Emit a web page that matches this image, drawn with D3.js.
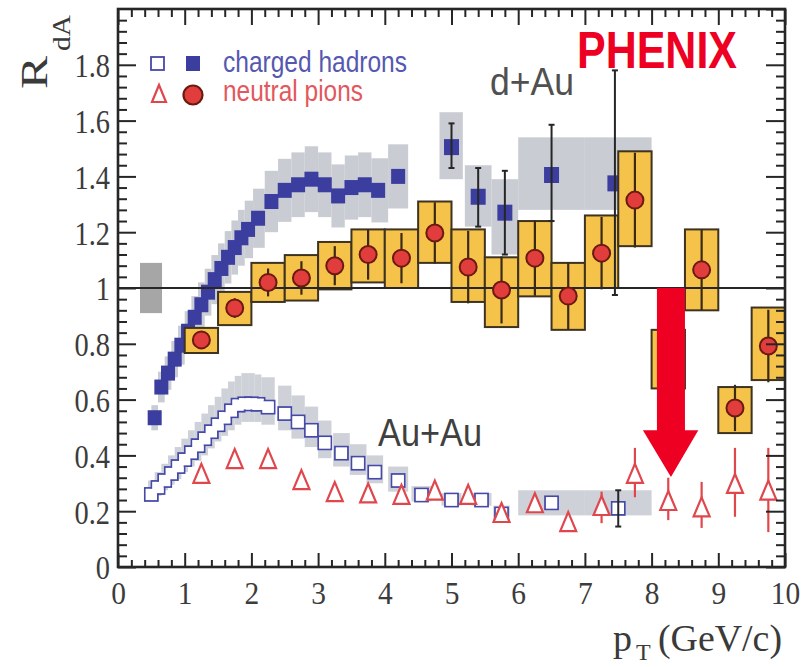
<!DOCTYPE html>
<html><head><meta charset="utf-8">
<script src="https://cdn.jsdelivr.net/npm/d3@7"></script>
<style>body{margin:0;background:#fff}svg{display:block}</style>
</head><body>
<svg id="c" width="812" height="667"></svg>
<script>
// ---------------- data ----------------
const xTickVals = [0,1,2,3,4,5,6,7,8,9,10];
const xTickLabels = ["0","1","2","3","4","5","6","7","8","9","10"];
const yTickVals = [0,0.2,0.4,0.6,0.8,1.0,1.2,1.4,1.6,1.8];
const yTickLabels = ["0","0.2","0.4","0.6","0.8","1","1.2","1.4","1.6","1.8"];

// normalization uncertainty box
const normBoxPt = [0.33, 0.66];
const normBoxR = [0.91, 1.09];

// d+Au charged hadrons (filled squares, low pT)
const dauChPt = [0.55,0.65,0.75,0.85,0.95,1.05,1.15,1.25,1.35,1.45,1.55,1.65,1.75,1.85,1.95,2.1,2.3,2.5,2.7,2.9,3.1,3.3,3.5,3.7,3.9,4.2];
const dauChR  = [0.535,0.645,0.695,0.745,0.795,0.845,0.895,0.94,0.985,1.03,1.07,1.11,1.145,1.18,1.21,1.25,1.31,1.35,1.37,1.39,1.37,1.33,1.36,1.37,1.35,1.40];
const dauChSys = [0.045,0.055,0.06,0.065,0.07,0.072,0.076,0.08,0.084,0.088,0.09,0.094,0.097,0.1,0.103,0.106,0.11,0.113,0.116,0.118,0.116,0.113,0.115,0.116,0.115,0.115];

// d+Au charged hadrons (filled squares, high pT, with errors)
const dauChHiPt = [5.0, 5.4, 5.8, 6.5, 7.45];
const dauChHiR  = [1.505, 1.327, 1.27, 1.405, 1.375];
const dauChHiErrLo = [0.075, 0.107, 0.15, 0.165, 0.40];
const dauChHiErrHi = [0.085, 0.103, 0.15, 0.18, 0.405];
const dauChHiBinLo = [4.82, 5.2, 5.6, 6.0, 7.0];
const dauChHiBinHi = [5.17, 5.6, 6.0, 7.0, 8.0];
const dauChHiSysLo = [1.39, 1.22, 1.12, 1.28, 1.28];
const dauChHiSysHi = [1.63, 1.44, 1.39, 1.54, 1.54];

// d+Au neutral pions (filled circles, yellow sys boxes)
const dauPiPt = [1.25,1.75,2.25,2.75,3.25,3.75,4.25,4.75,5.25,5.75,6.25,6.75,7.25,7.75,8.25,8.75,9.25,9.75];
const dauPiR  = [0.814,0.928,1.02,1.036,1.08,1.12,1.107,1.197,1.075,0.993,1.107,0.971,1.125,1.315,0.745,1.065,0.57,0.792];
const dauPiErr = [0.03,0.035,0.05,0.06,0.07,0.09,0.09,0.11,0.13,0.12,0.135,0.12,0.13,0.17,0.105,0.145,0.083,0.13];
const dauPiSysLo = [0.767,0.867,0.95,0.955,0.995,1.02,1.0,1.09,0.95,0.86,0.97,0.85,1.0,1.15,0.64,0.92,0.48,0.67];
const dauPiSysHi = [0.857,0.986,1.09,1.118,1.165,1.21,1.21,1.31,1.21,1.11,1.24,1.09,1.26,1.49,0.85,1.21,0.645,0.93];

// Au+Au charged hadrons (open squares)
const auauChPt = [0.5,0.6,0.7,0.8,0.9,1.0,1.1,1.2,1.3,1.4,1.5,1.6,1.7,1.8,1.9,2.0,2.1,2.25,2.5,2.7,2.9,3.1,3.35,3.6,3.85,4.2,4.55,5.0,5.45,5.75,6.5,7.5];
const auauChR  = [0.26,0.285,0.31,0.335,0.36,0.385,0.41,0.435,0.46,0.485,0.51,0.535,0.56,0.58,0.585,0.585,0.583,0.573,0.55,0.52,0.49,0.445,0.408,0.372,0.34,0.31,0.258,0.24,0.24,0.19,0.23,0.21];
const auauChErr = [0,0,0,0,0,0,0,0,0,0,0,0,0,0,0,0,0,0,0,0,0,0,0,0,0,0,0,0,0,0,0,0.065];
const auauChW   = [0.1,0.1,0.1,0.1,0.1,0.1,0.1,0.1,0.1,0.1,0.1,0.1,0.1,0.1,0.1,0.1,0.1,0.2,0.2,0.2,0.2,0.2,0.25,0.25,0.25,0.3,0.3,0.3,0.3,0.25,1.0,1.0];
const auauChSysLo = [0.235,0.255,0.275,0.295,0.315,0.34,0.36,0.38,0.40,0.425,0.45,0.47,0.49,0.51,0.52,0.52,0.52,0.51,0.49,0.46,0.43,0.39,0.36,0.33,0.30,0.27,0.235,0.22,0.22,0.165,0.185,0.185];
const auauChSysHi = [0.31,0.34,0.37,0.40,0.43,0.46,0.49,0.52,0.55,0.58,0.61,0.64,0.665,0.685,0.695,0.695,0.69,0.68,0.65,0.615,0.575,0.525,0.48,0.44,0.40,0.36,0.29,0.265,0.265,0.22,0.275,0.275];

// Au+Au neutral pions (open triangles)
const auauPiPt = [1.25,1.75,2.25,2.75,3.25,3.75,4.25,4.75,5.25,5.75,6.25,6.75,7.25,7.75,8.25,8.75,9.25,9.75];
const auauPiR  = [0.33,0.383,0.383,0.308,0.265,0.26,0.255,0.27,0.255,0.19,0.225,0.157,0.215,0.33,0.233,0.21,0.294,0.27];
const auauPiErrLo = [0.015,0.015,0.015,0.015,0.015,0.015,0.015,0.02,0.02,0.02,0.03,0.02,0.058,0.08,0.065,0.07,0.114,0.145];
const auauPiErrHi = [0.015,0.015,0.015,0.015,0.015,0.015,0.015,0.02,0.02,0.02,0.03,0.02,0.055,0.097,0.087,0.095,0.133,0.157];

// annotation arrow (data units)
const arrowPt = [8.08, 8.5, 7.87, 8.7, 8.29];   // shaft left, shaft right, head left, head right, tip
const arrowR  = [1.0, 0.49, 0.323];             // shaft top, head base, tip

// ---------------- drawing ----------------
const svg = d3.select("#c");
const x = d3.scaleLinear().domain([0,10]).range([118,785]);
const y = d3.scaleLinear().domain([0,2]).range([567,9]);

const C = {
  gray:"#c9ccd3", norm:"#a6a6a6", blue:"#3b3d9f", blueOpen:"#4649a8",
  yellow:"#f5c24a", yellowStroke:"#3d3320", red:"#e23d3d", redStroke:"#6b1a10",
  tri:"#e0474c", ink:"#262626"
};

function neighborBounds(pts, i){
  const n = pts.length;
  const lo = i>0 ? (pts[i-1]+pts[i])/2 : pts[i]-(pts[1]-pts[0])/2;
  const hi = i<n-1 ? (pts[i]+pts[i+1])/2 : pts[i]+(pts[i]-pts[i-1])/2;
  return [lo,hi];
}

const g = svg.append("g");

// normalization box
g.append("rect")
  .attr("x", x(normBoxPt[0])).attr("width", x(normBoxPt[1])-x(normBoxPt[0]))
  .attr("y", y(normBoxR[1])).attr("height", y(normBoxR[0])-y(normBoxR[1]))
  .attr("fill", C.norm);

// d+Au charged sys band
g.append("g").selectAll("rect").data(dauChPt).join("rect")
  .each(function(d,i){
    const [lo,hi] = neighborBounds(dauChPt,i);
    d3.select(this).attr("x", x(lo)).attr("width", x(hi)-x(lo))
      .attr("y", y(dauChR[i]+dauChSys[i])).attr("height", y(dauChR[i]-dauChSys[i])-y(dauChR[i]+dauChSys[i]));
  }).attr("fill", C.gray);
g.append("g").selectAll("rect").data(dauChHiPt).join("rect")
  .attr("x",(d,i)=>x(dauChHiBinLo[i])).attr("width",(d,i)=>x(dauChHiBinHi[i])-x(dauChHiBinLo[i]))
  .attr("y",(d,i)=>y(dauChHiSysHi[i])).attr("height",(d,i)=>y(dauChHiSysLo[i])-y(dauChHiSysHi[i]))
  .attr("fill", C.gray);

// Au+Au charged sys band
g.append("g").selectAll("rect").data(auauChPt).join("rect")
  .attr("x",(d,i)=>x(d-auauChW[i]/2)).attr("width",(d,i)=>x(d+auauChW[i]/2)-x(d-auauChW[i]/2))
  .attr("y",(d,i)=>y(auauChSysHi[i])).attr("height",(d,i)=>y(auauChSysLo[i])-y(auauChSysHi[i]))
  .attr("fill", C.gray).attr("opacity",0.9);

// d+Au charged filled squares
const sqW = 14, sqH = 15;
g.append("g").selectAll("rect").data(dauChPt).join("rect")
  .attr("x", d=>x(d)-sqW/2).attr("y",(d,i)=>y(dauChR[i])-sqH/2)
  .attr("width", sqW).attr("height", sqH).attr("fill", C.blue);

// high pT charged: error bars + squares
const eb = g.append("g").attr("stroke", C.ink).attr("stroke-width", 2);
dauChHiPt.forEach((p,i)=>{
  const cx = x(p), y1 = y(dauChHiR[i]+dauChHiErrHi[i]), y0 = y(dauChHiR[i]-dauChHiErrLo[i]);
  eb.append("line").attr("x1",cx).attr("x2",cx).attr("y1",y1).attr("y2",y0);
  eb.append("line").attr("x1",cx-3).attr("x2",cx+3).attr("y1",y1).attr("y2",y1);
  eb.append("line").attr("x1",cx-3).attr("x2",cx+3).attr("y1",y0).attr("y2",y0);
});
g.append("g").selectAll("rect").data(dauChHiPt).join("rect")
  .attr("x", d=>x(d)-7.5).attr("y",(d,i)=>y(dauChHiR[i])-8)
  .attr("width", 15).attr("height", 16).attr("fill", C.blue);

// yellow sys boxes for d+Au pions
g.append("g").selectAll("rect").data(dauPiPt).join("rect")
  .attr("x", d=>x(d-0.25)).attr("width", d=>x(d+0.25)-x(d-0.25))
  .attr("y",(d,i)=>y(dauPiSysHi[i])).attr("height",(d,i)=>y(dauPiSysLo[i])-y(dauPiSysHi[i]))
  .attr("fill", C.yellow).attr("stroke", C.yellowStroke).attr("stroke-width", 2);

// unity line
g.append("line").attr("x1", x(0)).attr("x2", x(10)).attr("y1", y(1)).attr("y2", y(1))
  .attr("stroke", C.ink).attr("stroke-width", 2);

// pion stat errors + circles
g.append("g").selectAll("line").data(dauPiPt).join("line")
  .attr("x1", d=>x(d)).attr("x2", d=>x(d))
  .attr("y1",(d,i)=>y(dauPiR[i]+dauPiErr[i])).attr("y2",(d,i)=>y(dauPiR[i]-dauPiErr[i]))
  .attr("stroke", "#3a2a15").attr("stroke-width", 2.2);
g.append("g").selectAll("circle").data(dauPiPt).join("circle")
  .attr("cx", d=>x(d)).attr("cy",(d,i)=>y(dauPiR[i])).attr("r", 8.5)
  .attr("fill", C.red).attr("stroke", C.redStroke).attr("stroke-width", 2);

// Au+Au open squares: outline of the union (stroke pass, then white fill pass)
auauChPt.forEach((p,i)=>{
  if(auauChErr[i]>0){
    const cx=x(p), y1=y(auauChR[i]+auauChErr[i]), y0=y(auauChR[i]-auauChErr[i]);
    eb.append("line").attr("x1",cx).attr("x2",cx).attr("y1",y1).attr("y2",y0);
    eb.append("line").attr("x1",cx-3).attr("x2",cx+3).attr("y1",y1).attr("y2",y1);
    eb.append("line").attr("x1",cx-3).attr("x2",cx+3).attr("y1",y0).attr("y2",y0);
  }
});
const osq = 13, osw = 1.8;
g.append("g").selectAll("rect").data(auauChPt).join("rect")
  .attr("x", d=>x(d)-osq/2).attr("y",(d,i)=>y(auauChR[i])-osq/2)
  .attr("width", osq).attr("height", osq)
  .attr("fill", "#fff").attr("stroke", C.blueOpen).attr("stroke-width", osw);
g.append("g").selectAll("rect").data(auauChPt).join("rect")
  .attr("x", d=>x(d)-osq/2+osw/2).attr("y",(d,i)=>y(auauChR[i])-osq/2+osw/2)
  .attr("width", osq-osw).attr("height", osq-osw)
  .attr("fill", "#fff");
eb.raise();

// Au+Au triangles
g.append("g").selectAll("line").data(auauPiPt).join("line")
  .attr("x1", d=>x(d)).attr("x2", d=>x(d))
  .attr("y1",(d,i)=>y(auauPiR[i]+auauPiErrHi[i])).attr("y2",(d,i)=>y(auauPiR[i]-auauPiErrLo[i]))
  .attr("stroke", C.tri).attr("stroke-width", 2.2);
const triPath = "M0,-11L8,8L-8,8Z";
g.append("g").selectAll("path").data(auauPiPt).join("path")
  .attr("d", triPath)
  .attr("transform",(d,i)=>`translate(${x(d)},${y(auauPiR[i])})`)
  .attr("fill", "#fff").attr("stroke", C.tri).attr("stroke-width", 2.2);

// ---------------- axes / frame ----------------
const minorX = d3.range(0, 10.0001, 0.2).filter(v=>Math.abs(v-Math.round(v))>1e-6);
const minorY = d3.range(0, 2.0001, 0.04).filter(v=>Math.abs(v*5-Math.round(v*5))>1e-6);
const majorY = d3.range(0, 2.0001, 0.2);

function styleAxis(sel){
  sel.select(".domain").remove();
  sel.selectAll(".tick line").attr("stroke", C.ink).attr("stroke-width", 2);
}
const axG = svg.append("g");
const bottomLab = axG.append("g").attr("transform","translate(0,567)");
const leftLab = axG.append("g").attr("transform","translate(118,0)");
// bottom
axG.append("g").attr("transform","translate(0,567)")
  .call(d3.axisBottom(x).tickValues(minorX).tickSize(-7).tickFormat("")).call(styleAxis);
bottomLab.call(d3.axisBottom(x).tickValues(xTickVals).tickSize(-14).tickPadding(14)
    .tickFormat((d,i)=>xTickLabels[i])).call(styleAxis);
// top
axG.append("g").attr("transform","translate(0,9)")
  .call(d3.axisTop(x).tickValues(minorX).tickSize(-8).tickFormat("")).call(styleAxis);
axG.append("g").attr("transform","translate(0,9)")
  .call(d3.axisTop(x).tickValues(xTickVals).tickSize(-16).tickFormat("")).call(styleAxis);
// left
axG.append("g").attr("transform","translate(118,0)")
  .call(d3.axisLeft(y).tickValues(minorY).tickSize(-9).tickFormat("")).call(styleAxis);
leftLab.call(d3.axisLeft(y).tickValues(yTickVals).tickSize(-18).tickPadding(8)
    .tickFormat((d,i)=>yTickLabels[i])).call(styleAxis);
// right
axG.append("g").attr("transform","translate(785,0)")
  .call(d3.axisRight(y).tickValues(minorY).tickSize(-9).tickFormat("")).call(styleAxis);
axG.append("g").attr("transform","translate(785,0)")
  .call(d3.axisRight(y).tickValues(majorY).tickSize(-19).tickFormat("")).call(styleAxis);

axG.append("rect").attr("x",118).attr("y",9).attr("width",785-118).attr("height",567-9)
  .attr("fill","none").attr("stroke",C.ink).attr("stroke-width",2.6);

axG.selectAll(".tick text")
  .attr("font-family","'Liberation Serif','Times New Roman',serif")
  .attr("fill","#3c3c3c");
function squeeze(sel, ratio){
  sel.each(function(){
    const L = this.getComputedTextLength();
    if(L>0){ this.setAttribute("textLength", L*ratio); this.setAttribute("lengthAdjust","spacingAndGlyphs"); }
  });
}
bottomLab.selectAll(".tick text").attr("font-size",32).call(squeeze,0.92);
leftLab.selectAll(".tick text").attr("font-size",33).attr("dy","0.36em").call(squeeze,0.86);

// ---------------- text ----------------
const T = svg.append("g");
function txt(s, px, py, opts){
  const t = T.append("text").attr("x",px).attr("y",py).text(s)
    .attr("font-family", opts.family || "'Liberation Sans',Arial,sans-serif")
    .attr("font-size", opts.size).attr("fill", opts.color || "#000");
  if(opts.weight) t.attr("font-weight", opts.weight);
  if(opts.len){ t.attr("textLength", opts.len).attr("lengthAdjust","spacingAndGlyphs"); }
  if(opts.tr) t.attr("transform", opts.tr).attr("x",0).attr("y",0);
  return t;
}
// y title
txt("R", 0, 0, {family:"'Liberation Serif',serif", size:38, color:"#3a3a3a", len:33, tr:"translate(47,89) rotate(-90)"});
txt("dA", 0, 0, {family:"'Liberation Serif',serif", size:25, color:"#3a3a3a", len:36, tr:"translate(70,51) rotate(-90)"});
// x title
txt("p", 613, 651, {family:"'Liberation Serif',serif", size:38, color:"#3a3a3a"});
txt("T", 636, 660, {family:"'Liberation Serif',serif", size:24, color:"#3a3a3a"});
txt("(GeV/c)", 658, 651, {family:"'Liberation Serif',serif", size:38, color:"#3a3a3a", len:124});

// legend
const L = svg.append("g");
L.append("rect").attr("x",151).attr("y",57).attr("width",13).attr("height",13)
  .attr("fill","#fff").attr("stroke",C.blueOpen).attr("stroke-width",1.8);
L.append("rect").attr("x",186).attr("y",56).attr("width",14).attr("height",15).attr("fill",C.blue);
L.append("path").attr("d","M0,-9L7,8L-7,8Z").attr("transform","translate(159,94)")
  .attr("fill","#fff").attr("stroke",C.tri).attr("stroke-width",2.2);
L.append("circle").attr("cx",193).attr("cy",95).attr("r",9.5)
  .attr("fill",C.red).attr("stroke",C.redStroke).attr("stroke-width",2.2);
txt("charged hadrons", 223, 72, {size:29, color:"#5558b0", len:184});
txt("neutral pions", 223, 101, {size:29, color:"#e2585c", len:140});
txt("d+Au", 490, 95, {size:38, color:"#505050", len:84});
txt("Au+Au", 378, 446, {size:38, color:"#404040", len:104});
txt("PHENIX", 577, 68, {size:52, color:"#ee0022", weight:"bold", len:160});

// red arrow annotation
const ap = [
  [arrowPt[0], arrowR[0]], [arrowPt[1], arrowR[0]], [arrowPt[1], arrowR[1]],
  [arrowPt[3], arrowR[1]], [arrowPt[4], arrowR[2]], [arrowPt[2], arrowR[1]],
  [arrowPt[0], arrowR[1]]
];
svg.append("path")
  .attr("d", d3.line().x(d=>x(d[0])).y(d=>y(d[1]))(ap) + "Z")
  .attr("fill","#ee0022");
</script>
</body></html>
